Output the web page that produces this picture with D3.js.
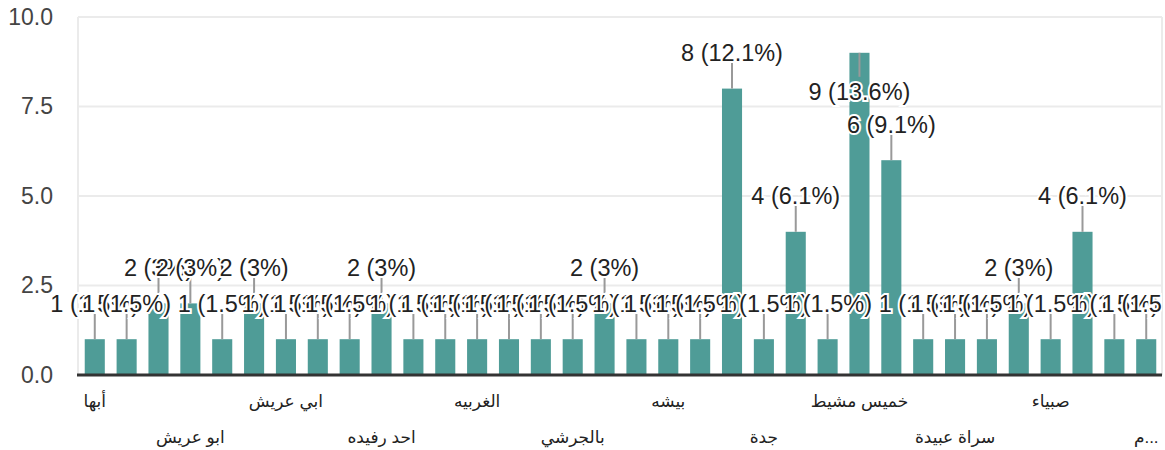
<!DOCTYPE html>
<html>
<head>
<meta charset="utf-8">
<script src="https://cdn.jsdelivr.net/npm/d3@7"></script>
<style>
  body { margin: 0; background: #fff; }
  svg text { font-family: "Liberation Sans", Arial, "DejaVu Sans", sans-serif; }
</style>
</head>
<body>
<div id="chart"></div>
<script>
// categories: only every third name is readable in the picture, the rest stay blank
var categories = ["أبها", "", "", "ابو عريش", "", "", "ابي عريش", "", "", "احد رفيده", "", "",
                  "الغربيه", "", "", "بالجرشي", "", "", "بيشه", "", "", "جدة", "", "",
                  "خميس مشيط", "", "", "سراة عبيدة", "", "", "صبياء", "", "", "م..."];
var counts = [1, 1, 2, 2, 1, 2, 1, 1, 1, 2, 1, 1, 1, 1, 1, 1, 2, 1, 1, 1,
              8, 1, 4, 1, 9, 6, 1, 1, 1, 2, 1, 4, 1, 1];
var percents = ["1.5%", "1.5%", "3%", "3%", "1.5%", "3%", "1.5%", "1.5%", "1.5%", "3%",
                "1.5%", "1.5%", "1.5%", "1.5%", "1.5%", "1.5%", "3%", "1.5%", "1.5%", "1.5%",
                "12.1%", "1.5%", "6.1%", "1.5%", "13.6%", "9.1%", "1.5%", "1.5%", "1.5%", "3%",
                "1.5%", "6.1%", "1.5%", "1.5%"];
var yTicks = [0, 2.5, 5, 7.5, 10];

var W = 1165, H = 450;
var plotL = 78, plotR = 1162, plotT = 17, plotB = 375;

var svg = d3.select("#chart").append("svg")
    .attr("width", W)
    .attr("height", H);

svg.append("defs").append("clipPath").attr("id", "clip")
  .append("rect").attr("x", 0).attr("y", 0).attr("width", plotR).attr("height", H);

var idx = d3.range(categories.length);

var x = d3.scaleBand()
    .domain(idx)
    .range([plotL + 1, plotR])
    .paddingInner(0.37)
    .paddingOuter(0.18);

var y = d3.scaleLinear()
    .domain([0, 10])
    .range([plotB, plotT]);

// gridlines
svg.append("g").selectAll("line")
  .data(yTicks.slice(1))
  .enter().append("line")
    .attr("x1", plotL).attr("x2", plotR)
    .attr("y1", function(d) { return y(d); })
    .attr("y2", function(d) { return y(d); })
    .attr("stroke", "#ebebeb")
    .attr("stroke-width", 2);

// chart border sides
svg.append("g").selectAll("line")
  .data([plotL, plotR])
  .enter().append("line")
    .attr("x1", function(d) { return d; }).attr("x2", function(d) { return d; })
    .attr("y1", plotT).attr("y2", plotB)
    .attr("stroke", "#ebebeb")
    .attr("stroke-width", 2);

// y axis labels
var yAxis = d3.axisLeft(y).tickValues(yTicks).tickFormat(d3.format(".1f")).tickSize(0).tickPadding(0);
var yg = svg.append("g")
    .attr("transform", "translate(53,0)")
    .call(yAxis);
yg.select(".domain").remove();
yg.selectAll("text")
    .attr("fill", "#444")
    .style("font-size", "23px");

// bars
svg.append("g").selectAll("rect")
  .data(idx)
  .enter().append("rect")
    .attr("x", function(i) { return x(i); })
    .attr("y", function(i) { return y(counts[i]); })
    .attr("width", x.bandwidth())
    .attr("height", function(i) { return y(0) - y(counts[i]); })
    .attr("fill", "#4f9c97");

// baseline
svg.append("line")
    .attr("x1", plotL - 1).attr("x2", plotR)
    .attr("y1", y(0)).attr("y2", y(0))
    .attr("stroke", "#333")
    .attr("stroke-width", 3);

// annotations
function flipped(i) { return y(counts[i]) - 36 < 25; }

var ann = svg.append("g").attr("clip-path", "url(#clip)");

ann.selectAll("line")
  .data(idx)
  .enter().append("line")
    .attr("x1", function(i) { return x(i) + x.bandwidth() / 2; })
    .attr("x2", function(i) { return x(i) + x.bandwidth() / 2; })
    .attr("y1", function(i) { return y(counts[i]); })
    .attr("y2", function(i) { return flipped(i) ? y(counts[i]) + 24 : y(counts[i]) - 26; })
    .attr("stroke", "#999")
    .attr("stroke-width", 2);

ann.selectAll("text")
  .data(idx)
  .enter().append("text")
    .attr("x", function(i) { return x(i) + x.bandwidth() / 2; })
    .attr("y", function(i) { return flipped(i) ? y(counts[i]) + 39 : y(counts[i]) - 36; })
    .attr("dy", "0.36em")
    .attr("text-anchor", "middle")
    .attr("fill", "#222")
    .attr("stroke", "#fff")
    .attr("stroke-width", 4)
    .attr("paint-order", "stroke")
    .style("font-size", "23.5px")
    .text(function(i) { return counts[i] + " (" + percents[i] + ")"; });

// x labels, alternating in two rows
svg.append("g").selectAll("text")
  .data(idx.filter(function(i) { return categories[i] !== ""; }))
  .enter().append("text")
    .attr("x", function(i) { return x(i) + x.bandwidth() / 2; })
    .attr("y", function(i, k) { return k % 2 === 0 ? 401 : 437; })
    .attr("dy", "0.35em")
    .attr("text-anchor", "middle")
    .attr("fill", "#222")
    .style("font-size", "17px")
    .text(function(i) { return categories[i]; });
</script>
</body>
</html>
